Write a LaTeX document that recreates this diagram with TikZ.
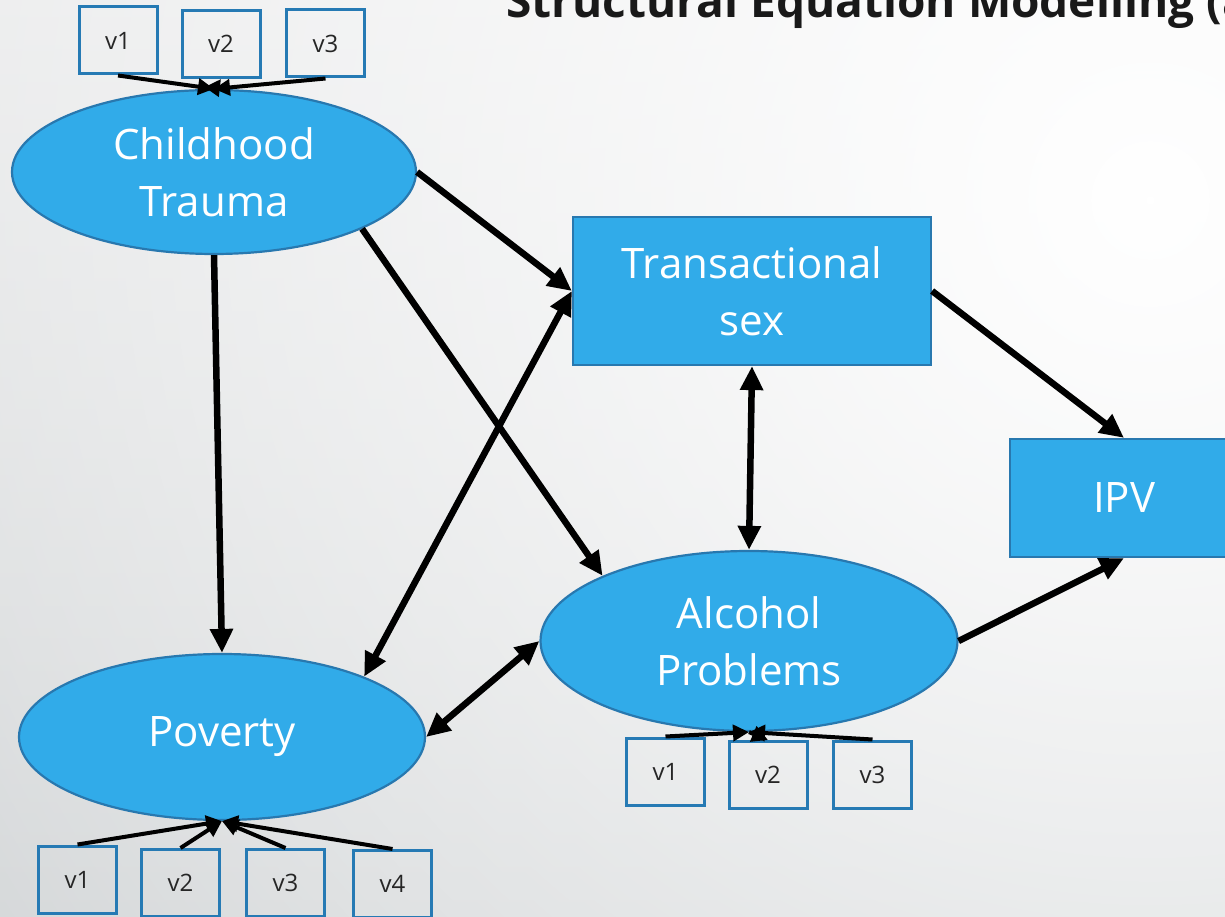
\documentclass[tikz,border=0pt]{standalone}
\usepackage{fontspec}
\setmainfont{Open Sans}
\usetikzlibrary{shapes.geometric, arrows.meta, fadings}
\definecolor{bgtop}{RGB}{226,227,228}
\definecolor{bgbottom}{RGB}{195,199,201}
\definecolor{latentblue}{RGB}{49,171,233}
\definecolor{latentedge}{RGB}{40,120,175}
\definecolor{itemedge}{RGB}{38,122,180}
\tikzfading[name=glowfade, inner color=transparent!0, outer color=transparent!100]

\begin{document}
\begin{tikzpicture}[x=1pt, y=1pt,
    latent/.style={ellipse, draw=latentedge, line width=2.2pt, fill=latentblue,
      text=white, align=center, inner sep=0pt, font=\fontsize{42}{57}\selectfont},
    observed/.style={rectangle, draw=latentedge, line width=2.2pt, fill=latentblue,
      text=white, align=center, inner sep=0pt, font=\fontsize{42}{57}\selectfont},
    item/.style={rectangle, draw=itemedge, line width=3pt, minimum width=78pt,
      minimum height=67pt, inner sep=0pt, text=black!85, font=\fontsize{24}{28}\selectfont},
    effect/.style={-{Triangle[length=24pt, width=22pt]}, line width=6.5pt},
    covar/.style={{Triangle[length=24pt, width=22pt]}-{Triangle[length=24pt, width=22pt]}, line width=6.5pt},
    load/.style={-{Triangle[length=16pt, width=16pt]}, line width=4pt}]

    \useasboundingbox (0,0) rectangle (1225,916);
    \clip (0,0) rectangle (1225,916);

    % Background
    \shade[top color=bgtop, bottom color=bgbottom] (0,0) rectangle (1225,916);
    \fill[white, path fading=glowfade] (1150,716) circle (2000pt);

    \node[anchor=base west, text=black!90, font=\bfseries\fontsize{46}{52}\selectfont]
      (title) at (503,898) {Structural Equation Modelling (a};

    % Latent and observed variables
    \node[latent, minimum width=404pt, minimum height=164pt] (trauma) at (214,744) {Childhood\\Trauma};
    \node[latent, minimum width=406pt, minimum height=166pt] (poverty) at (222,179) {Poverty};
    \node[latent, minimum width=417pt, minimum height=180pt] (alcohol) at (749,275) {Alcohol\\Problems};
    \node[observed, minimum width=358pt, minimum height=148pt] (sex) at (752,625) {Transactional\\sex};
    \node[observed, minimum width=228pt, minimum height=118pt] (ipv) at (1124,418) {IPV};

    % Indicators
    \node[item] (t1) at (118,875.5) {v1};
    \node[item] (t2) at (221,872) {v2};
    \node[item] (t3) at (325.5,872.5) {v3};

    \node[item] (a1) at (665.5,144.5) {v1};
    \node[item] (a2) at (768,141) {v2};
    \node[item] (a3) at (872.5,141.5) {v3};

    \node[item] (p1) at (77.5,36.5) {v1};
    \node[item] (p2) at (180.5,33) {v2};
    \node[item] (p3) at (285.5,33) {v3};
    \node[item] (p4) at (392.5,32) {v4};

    % Measurement arrows
    \draw[load] (t1.south) -- (trauma.north);
    \draw[load] (t3.south) -- (trauma.north);
    \draw[load] (trauma.north) -- (t2.south);

    \draw[load] (a1.north) -- (alcohol.south);
    \draw[load] (a3.north) -- (alcohol.south);
    \draw[load] (alcohol.south) -- (a2.north);

    \foreach \i in {p1,p2,p3,p4}
      \draw[load] (\i.north) -- (poverty.south);

    % Structural paths
    \draw[effect] (trauma.east) -- (sex.west);
    \draw[effect] (trauma.-21) -- (alcohol.156);
    \draw[effect] (trauma.south) -- (poverty.north);
    \draw[covar] (poverty.23) -- (sex.west);
    \draw[covar] (sex.south) -- (alcohol.north);
    \draw[covar] (poverty.east) -- (alcohol.west);
    \draw[effect] (sex.east) -- (ipv.north);
    \draw[effect] (alcohol.east) -- (ipv.south);
\end{tikzpicture}
\end{document}
